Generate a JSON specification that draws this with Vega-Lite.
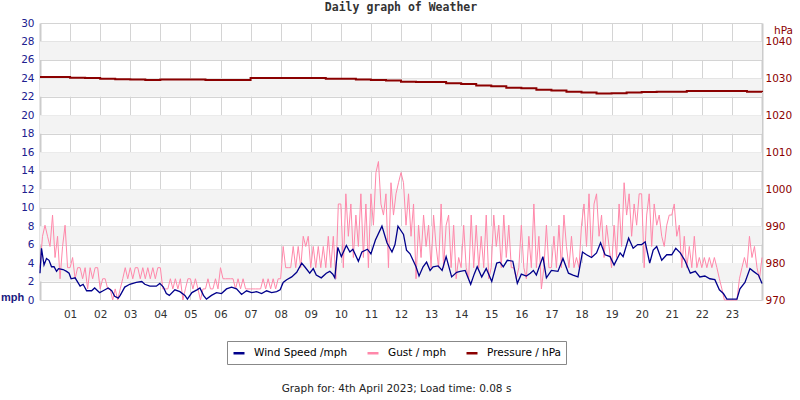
{
  "$schema": "https://vega.github.io/schema/vega-lite/v6.json",
  "width": 722,
  "height": 277,
  "autosize": "none",
  "padding": {"left": 40, "top": 23, "right": 38, "bottom": 100},
  "background": "white",
  "config": {
    "view": {"stroke": null},
    "font": "DejaVu Sans",
    "axis": {"labelFont": "DejaVu Sans", "titleFont": "DejaVu Sans", "labelOverlap": false, "labelFlush": false, "ticks": false, "labelFontSize": 10.5},
    "axisX": {
      "grid": true, "gridColor": "#d4d4d4", "domain": false, "labelColor": "#333333", "labelPadding": 9,
      "titleFontSize": 10.5, "titleFontWeight": "normal", "titleColor": "#222222",
      "titleX": 356, "titleY": 91, "titleAlign": "center", "titleBaseline": "alphabetic"
    },
    "axisLeft": {
      "grid": true, "gridColor": "#d4d4d4", "domain": true, "domainColor": "#cccccc", "domainWidth": 2,
      "labelColor": "#20208f", "labelPadding": 6,
      "titleFont": "Liberation Sans", "titleFontSize": 11, "titleFontWeight": "bold", "titleColor": "#1a1a80",
      "titleAngle": 0, "titleAlign": "center", "titleBaseline": "alphabetic", "titleX": -28, "titleY": 277
    },
    "axisRight": {
      "grid": false, "domain": true, "domainColor": "#cccccc", "domainWidth": 2,
      "labelColor": "#8b0000", "labelPadding": 3,
      "titleFontSize": 10.5, "titleFontWeight": "normal", "titleColor": "#8b0000",
      "titleAngle": 0, "titleAlign": "center", "titleBaseline": "alphabetic", "titleX": 21, "titleY": 10
    }
  },
  "title": {
    "text": "Daily graph of Weather",
    "font": "DejaVu Sans Mono",
    "fontSize": 11.5,
    "fontWeight": "bold",
    "color": "#333333",
    "anchor": "middle",
    "frame": "group",
    "offset": 5
  },
  "datasets": {
    "bands": [
      {"lo": 2, "hi": 4}, {"lo": 6, "hi": 8}, {"lo": 10, "hi": 12}, {"lo": 14, "hi": 16},
      {"lo": 18, "hi": 20}, {"lo": 22, "hi": 24}, {"lo": 26, "hi": 28}
    ],
    "wind": [
      {"m":0,"w":2.9},{"m":3,"w":5.6},{"m":8,"w":3.8},{"m":13,"w":4.5},{"m":18,"w":4.3},{"m":23,"w":3.6},{"m":28,"w":3.6},{"m":33,"w":3.1},{"m":37,"w":3.4},{"m":46,"w":3.3},{"m":53,"w":3.1},{"m":58,"w":2.9},
      {"m":62,"w":2.3},{"m":70,"w":2.4},{"m":80,"w":1.5},{"m":86,"w":1.7},{"m":93,"w":1.0},{"m":103,"w":1.0},{"m":109,"w":1.3},{"m":119,"w":0.8},
      {"m":126,"w":1.0},{"m":136,"w":1.3},{"m":143,"w":1.0},{"m":149,"w":0.4},{"m":156,"w":0.2},{"m":160,"w":0.5},{"m":169,"w":1.4},{"m":179,"w":1.7},
      {"m":192,"w":1.9},{"m":203,"w":2.0},{"m":209,"w":1.7},{"m":219,"w":1.5},{"m":232,"w":1.5},{"m":239,"w":1.8},
      {"m":246,"w":1.4},{"m":252,"w":0.7},{"m":258,"w":0.5},{"m":269,"w":1.1},{"m":279,"w":0.9},{"m":289,"w":0.5},{"m":294,"w":0.1},
      {"m":303,"w":0.8},{"m":313,"w":1.1},{"m":319,"w":1.3},{"m":326,"w":0.5},{"m":332,"w":0.1},{"m":342,"w":0.5},{"m":352,"w":0.8},
      {"m":362,"w":0.7},{"m":372,"w":1.2},{"m":382,"w":1.4},{"m":392,"w":1.2},{"m":402,"w":0.6},{"m":412,"w":1.0},
      {"m":422,"w":0.8},{"m":432,"w":0.9},{"m":442,"w":0.7},{"m":452,"w":1.0},{"m":462,"w":0.8},{"m":472,"w":0.9},{"m":479,"w":1.1},
      {"m":485,"w":1.9},{"m":492,"w":2.2},{"m":502,"w":2.5},{"m":512,"w":3.0},{"m":522,"w":4.0},{"m":528,"w":3.6},{"m":538,"w":2.9},
      {"m":545,"w":3.4},{"m":551,"w":2.7},{"m":561,"w":2.4},{"m":571,"w":2.9},{"m":578,"w":3.1},{"m":584,"w":2.8},{"m":588,"w":2.4},{"m":594,"w":5.7},
      {"m":601,"w":4.7},{"m":611,"w":5.9},{"m":618,"w":5.2},{"m":624,"w":5.5},{"m":635,"w":4.2},{"m":642,"w":5.2},{"m":653,"w":5.5},
      {"m":660,"w":5.0},{"m":669,"w":6.5},{"m":682,"w":8.0},{"m":692,"w":6.2},{"m":702,"w":5.2},{"m":708,"w":6.0},{"m":714,"w":8.0},
      {"m":725,"w":7.1},{"m":731,"w":5.4},{"m":738,"w":5.0},{"m":750,"w":3.6},{"m":756,"w":2.6},{"m":764,"w":3.6},{"m":771,"w":4.1},{"m":778,"w":3.2},
      {"m":784,"w":3.6},{"m":794,"w":3.7},{"m":802,"w":3.2},{"m":810,"w":4.7},{"m":821,"w":2.5},{"m":831,"w":3.0},{"m":838,"w":3.1},
      {"m":848,"w":3.2},{"m":859,"w":1.7},{"m":866,"w":2.8},{"m":872,"w":3.6},{"m":881,"w":2.5},{"m":890,"w":3.4},
      {"m":901,"w":2.0},{"m":911,"w":4.0},{"m":917,"w":4.1},{"m":924,"w":3.6},{"m":932,"w":4.3},{"m":943,"w":4.2},{"m":952,"w":1.8},
      {"m":960,"w":2.8},{"m":970,"w":2.6},{"m":978,"w":2.9},{"m":984,"w":3.2},{"m":990,"w":2.7},{"m":1003,"w":4.7},{"m":1010,"w":2.4},
      {"m":1020,"w":3.2},{"m":1033,"w":3.1},{"m":1043,"w":4.5},{"m":1054,"w":2.9},{"m":1063,"w":2.7},{"m":1073,"w":2.5},
      {"m":1082,"w":5.2},{"m":1090,"w":4.9},{"m":1100,"w":4.6},{"m":1110,"w":5.1},{"m":1118,"w":6.2},{"m":1127,"w":4.9},{"m":1137,"w":4.7},
      {"m":1145,"w":3.8},{"m":1157,"w":5.1},{"m":1163,"w":4.7},{"m":1174,"w":6.7},{"m":1183,"w":5.6},{"m":1192,"w":6.0},
      {"m":1200,"w":6.0},{"m":1207,"w":6.3},{"m":1216,"w":4.0},{"m":1223,"w":5.4},{"m":1230,"w":5.8},{"m":1240,"w":4.3},{"m":1250,"w":4.9},
      {"m":1260,"w":4.9},{"m":1268,"w":5.6},{"m":1277,"w":5.1},{"m":1286,"w":4.3},{"m":1297,"w":2.9},{"m":1307,"w":3.1},{"m":1316,"w":2.5},
      {"m":1326,"w":2.6},{"m":1336,"w":2.3},{"m":1346,"w":2.2},{"m":1355,"w":1.1},{"m":1363,"w":0.7},{"m":1370,"w":0.1},
      {"m":1390,"w":0.1},{"m":1396,"w":1.2},{"m":1406,"w":1.9},{"m":1416,"w":3.4},{"m":1423,"w":3.1},{"m":1433,"w":2.7},{"m":1440,"w":1.8}
    ],
    "gust": [
      {"m":0,"g":3.5},{"m":5,"g":6.9},{"m":10,"g":8.1},{"m":15,"g":6.9},{"m":20,"g":5.8},{"m":25,"g":9.2},{"m":30,"g":4.6},{"m":35,"g":6.9},{"m":40,"g":2.3},{"m":45,"g":5.8},{"m":50,"g":8.1},{"m":55,"g":3.5},
      {"m":60,"g":3.5},{"m":65,"g":4.6},{"m":70,"g":2.3},{"m":75,"g":3.5},{"m":80,"g":3.5},{"m":85,"g":2.3},{"m":90,"g":3.5},{"m":95,"g":1.2},{"m":100,"g":3.5},{"m":105,"g":2.3},{"m":110,"g":3.5},{"m":115,"g":3.5},
      {"m":120,"g":1.2},{"m":125,"g":2.3},{"m":130,"g":2.3},{"m":135,"g":1.2},{"m":140,"g":1.2},{"m":145,"g":0},{"m":150,"g":1.2},{"m":155,"g":0},{"m":160,"g":1.2},{"m":165,"g":2.3},{"m":170,"g":3.5},{"m":175,"g":2.3},
      {"m":180,"g":3.5},{"m":185,"g":2.3},{"m":190,"g":3.5},{"m":195,"g":3.5},{"m":200,"g":2.3},{"m":205,"g":3.5},{"m":210,"g":2.3},{"m":215,"g":3.5},{"m":220,"g":2.3},{"m":225,"g":3.5},{"m":230,"g":2.3},{"m":235,"g":3.5},
      {"m":240,"g":3.5},{"m":245,"g":1.2},{"m":250,"g":1.2},{"m":255,"g":1.2},{"m":260,"g":2.3},{"m":265,"g":1.2},{"m":270,"g":2.3},{"m":275,"g":1.2},{"m":280,"g":2.3},{"m":285,"g":0},{"m":290,"g":1.2},{"m":295,"g":2.3},
      {"m":300,"g":2.3},{"m":305,"g":1.2},{"m":310,"g":2.3},{"m":315,"g":1.2},{"m":320,"g":0},{"m":325,"g":1.2},{"m":330,"g":1.2},{"m":335,"g":2.3},{"m":340,"g":1.2},{"m":345,"g":1.2},{"m":350,"g":2.3},{"m":355,"g":1.2},
      {"m":360,"g":3.5},{"m":365,"g":2.3},{"m":370,"g":2.3},{"m":375,"g":2.3},{"m":380,"g":2.3},{"m":385,"g":2.3},{"m":390,"g":1.2},{"m":395,"g":2.3},{"m":400,"g":1.2},{"m":405,"g":2.3},{"m":410,"g":1.2},{"m":415,"g":1.2},
      {"m":420,"g":1.2},{"m":425,"g":1.2},{"m":430,"g":1.2},{"m":435,"g":1.2},{"m":440,"g":1.2},{"m":445,"g":2.3},{"m":450,"g":1.2},{"m":455,"g":2.3},{"m":460,"g":1.2},{"m":465,"g":2.3},{"m":470,"g":1.2},{"m":475,"g":2.3},
      {"m":480,"g":2.3},{"m":485,"g":5.8},{"m":490,"g":3.5},{"m":495,"g":3.5},{"m":500,"g":3.5},{"m":505,"g":5.8},{"m":510,"g":3.5},{"m":515,"g":5.8},{"m":520,"g":3.5},{"m":525,"g":6.9},{"m":530,"g":5.8},{"m":535,"g":6.9},
      {"m":540,"g":3.5},{"m":545,"g":5.8},{"m":550,"g":3.5},{"m":555,"g":5.8},{"m":560,"g":3.5},{"m":565,"g":5.8},{"m":570,"g":3.5},{"m":575,"g":6.9},{"m":580,"g":3.5},{"m":585,"g":6.9},{"m":590,"g":2.3},{"m":595,"g":10.4},
      {"m":600,"g":10.4},{"m":605,"g":3.5},{"m":610,"g":11.5},{"m":615,"g":6.9},{"m":620,"g":10.4},{"m":625,"g":4.6},{"m":630,"g":9.2},{"m":635,"g":5.8},{"m":640,"g":11.5},{"m":645,"g":4.6},{"m":650,"g":10.4},{"m":655,"g":3.5},
      {"m":660,"g":11.5},{"m":665,"g":8.1},{"m":670,"g":13.8},{"m":675,"g":15.0},{"m":680,"g":10.4},{"m":685,"g":9.2},{"m":690,"g":11.5},{"m":695,"g":3.5},{"m":700,"g":12.7},{"m":705,"g":9.2},{"m":710,"g":11.5},{"m":715,"g":12.7},
      {"m":720,"g":13.8},{"m":725,"g":12.7},{"m":730,"g":8.1},{"m":735,"g":11.5},{"m":740,"g":6.9},{"m":745,"g":10.4},{"m":750,"g":2.3},{"m":755,"g":8.1},{"m":760,"g":4.6},{"m":765,"g":9.2},{"m":770,"g":5.8},{"m":775,"g":8.1},
      {"m":780,"g":3.5},{"m":785,"g":9.2},{"m":790,"g":5.8},{"m":795,"g":3.5},{"m":800,"g":10.4},{"m":805,"g":3.5},{"m":810,"g":8.1},{"m":815,"g":9.2},{"m":820,"g":3.5},{"m":825,"g":8.1},{"m":830,"g":2.3},{"m":835,"g":4.6},
      {"m":840,"g":3.5},{"m":845,"g":8.1},{"m":850,"g":3.5},{"m":855,"g":2.3},{"m":860,"g":9.2},{"m":865,"g":3.5},{"m":870,"g":8.1},{"m":875,"g":3.5},{"m":880,"g":6.9},{"m":885,"g":3.5},{"m":890,"g":9.2},{"m":895,"g":2.3},
      {"m":900,"g":3.5},{"m":905,"g":9.2},{"m":910,"g":5.8},{"m":915,"g":8.1},{"m":920,"g":3.5},{"m":925,"g":9.2},{"m":930,"g":4.6},{"m":935,"g":8.1},{"m":940,"g":3.5},{"m":945,"g":3.5},{"m":950,"g":2.3},{"m":955,"g":3.5},
      {"m":960,"g":8.1},{"m":965,"g":3.5},{"m":970,"g":2.3},{"m":975,"g":6.9},{"m":980,"g":3.5},{"m":985,"g":10.4},{"m":990,"g":3.5},{"m":995,"g":6.9},{"m":1000,"g":1.2},{"m":1005,"g":3.5},{"m":1010,"g":8.1},{"m":1015,"g":3.5},
      {"m":1020,"g":3.5},{"m":1025,"g":6.9},{"m":1030,"g":3.5},{"m":1035,"g":8.1},{"m":1040,"g":3.5},{"m":1045,"g":9.2},{"m":1050,"g":5.8},{"m":1055,"g":3.5},{"m":1060,"g":6.9},{"m":1065,"g":3.5},{"m":1070,"g":4.6},{"m":1075,"g":3.5},
      {"m":1080,"g":8.1},{"m":1085,"g":10.4},{"m":1090,"g":5.8},{"m":1095,"g":11.5},{"m":1100,"g":4.6},{"m":1105,"g":10.4},{"m":1110,"g":11.5},{"m":1115,"g":6.9},{"m":1120,"g":9.2},{"m":1125,"g":4.6},{"m":1130,"g":8.1},{"m":1135,"g":5.8},
      {"m":1140,"g":3.5},{"m":1145,"g":8.1},{"m":1150,"g":4.6},{"m":1155,"g":10.4},{"m":1160,"g":5.8},{"m":1165,"g":12.7},{"m":1170,"g":9.2},{"m":1175,"g":11.5},{"m":1180,"g":6.9},{"m":1185,"g":10.4},{"m":1190,"g":8.1},{"m":1195,"g":11.5},
      {"m":1200,"g":11.5},{"m":1205,"g":3.5},{"m":1210,"g":9.2},{"m":1215,"g":11.5},{"m":1220,"g":5.8},{"m":1225,"g":10.4},{"m":1230,"g":8.1},{"m":1235,"g":9.2},{"m":1240,"g":6.9},{"m":1245,"g":5.8},{"m":1250,"g":8.1},{"m":1255,"g":9.2},
      {"m":1260,"g":9.2},{"m":1265,"g":10.4},{"m":1270,"g":6.9},{"m":1275,"g":8.1},{"m":1280,"g":3.5},{"m":1285,"g":6.9},{"m":1290,"g":3.5},{"m":1295,"g":5.8},{"m":1300,"g":3.5},{"m":1305,"g":6.9},{"m":1310,"g":3.5},{"m":1315,"g":4.6},
      {"m":1320,"g":3.5},{"m":1325,"g":4.6},{"m":1330,"g":3.5},{"m":1335,"g":4.6},{"m":1340,"g":3.5},{"m":1345,"g":4.6},{"m":1350,"g":3.5},{"m":1355,"g":2.3},{"m":1360,"g":1.2},{"m":1365,"g":0},{"m":1370,"g":0},{"m":1375,"g":0},
      {"m":1380,"g":0},{"m":1385,"g":0},{"m":1390,"g":0},{"m":1395,"g":2.3},{"m":1400,"g":3.5},{"m":1405,"g":4.6},{"m":1410,"g":3.5},{"m":1415,"g":6.9},{"m":1420,"g":4.6},{"m":1425,"g":5.8},{"m":1430,"g":3.5},{"m":1435,"g":2.3},
      {"m":1440,"g":4.6}
    ],
    "pressure": [
      {"m":0,"p":1030.4},{"m":30,"p":1030.4},{"m":60,"p":1030.2},{"m":90,"p":1030.1},{"m":120,"p":1029.9},{"m":150,"p":1029.8},
      {"m":180,"p":1029.7},{"m":210,"p":1029.6},{"m":240,"p":1029.7},{"m":270,"p":1029.7},{"m":300,"p":1029.7},{"m":330,"p":1029.6},
      {"m":360,"p":1029.6},{"m":390,"p":1029.6},{"m":420,"p":1030.1},{"m":450,"p":1030.1},{"m":480,"p":1030.1},{"m":510,"p":1030.1},
      {"m":540,"p":1030.1},{"m":570,"p":1029.9},{"m":600,"p":1029.9},{"m":630,"p":1029.7},{"m":660,"p":1029.6},{"m":690,"p":1029.4},
      {"m":720,"p":1029.1},{"m":750,"p":1029.0},{"m":780,"p":1029.0},{"m":810,"p":1028.7},{"m":840,"p":1028.5},{"m":870,"p":1028.1},
      {"m":900,"p":1027.9},{"m":930,"p":1027.5},{"m":960,"p":1027.3},{"m":990,"p":1026.9},{"m":1020,"p":1026.7},{"m":1050,"p":1026.4},
      {"m":1080,"p":1026.2},{"m":1110,"p":1025.9},{"m":1140,"p":1026.0},{"m":1170,"p":1026.2},{"m":1200,"p":1026.3},{"m":1230,"p":1026.4},
      {"m":1260,"p":1026.4},{"m":1290,"p":1026.6},{"m":1320,"p":1026.6},{"m":1350,"p":1026.6},{"m":1380,"p":1026.6},{"m":1410,"p":1026.4},{"m":1440,"p":1026.3}
    ]
  },
  "layer": [
    {
      "layer": [
        {
          "data": {"name": "bands"},
          "mark": {"type": "rect", "color": "#f3f3f3"},
          "encoding": {
            "x": {
              "datum": 0,
              "type": "quantitative",
              "scale": {"domain": [0, 1440], "nice": false, "zero": false},
              "axis": {
                "values": [60,120,180,240,300,360,420,480,540,600,660,720,780,840,900,960,1020,1080,1140,1200,1260,1320,1380],
                "labelExpr": "(datum.value < 600 ? '0' : '') + (datum.value / 60)",
                "labelOverlap": false,
                "title": "Graph for: 4th April 2023; Load time: 0.08 s"
              }
            },
            "x2": {"datum": 1440},
            "y": {
              "field": "lo",
              "type": "quantitative",
              "scale": {"domain": [0, 30], "nice": false},
              "axis": {"values": [0,2,4,6,8,10,12,14,16,18,20,22,24,26,28,30], "labelOverlap": false, "title": "mph"}
            },
            "y2": {"field": "hi"}
          }
        },
        {
          "data": {"name": "gust"},
          "mark": {"type": "line", "strokeWidth": 1},
          "encoding": {
            "x": {
              "field": "m",
              "type": "quantitative",
              "axis": {
                "values": [60,120,180,240,300,360,420,480,540,600,660,720,780,840,900,960,1020,1080,1140,1200,1260,1320,1380],
                "labelExpr": "(datum.value < 600 ? '0' : '') + (datum.value / 60)",
                "labelOverlap": false,
                "title": "Graph for: 4th April 2023; Load time: 0.08 s"
              }
            },
            "y": {
              "field": "g",
              "type": "quantitative",
              "scale": {"domain": [0, 30], "nice": false},
              "axis": {"values": [0,2,4,6,8,10,12,14,16,18,20,22,24,26,28,30], "labelOverlap": false, "title": "mph"}
            },
            "color": {
              "datum": "Gust / mph",
              "type": "nominal",
              "scale": {
                "domain": ["Wind Speed /mph", "Gust / mph", "Pressure / hPa"],
                "range": ["#00008b", "#ff88aa", "#8b0000"]
              },
              "legend": {
                "orient": "none",
                "legendX": 187,
                "legendY": 318,
                "direction": "horizontal",
                "title": null,
                "symbolType": "stroke",
                "symbolStrokeWidth": 2.5,
                "symbolSize": 121,
                "labelFontSize": 10.5,
                "labelFont": "DejaVu Sans",
                "labelColor": "#000000",
                "strokeColor": "#888888",
                "fillColor": "#ffffff",
                "padding": 5,
                "columnPadding": 14,
                "labelOffset": 8
              }
            }
          }
        },
        {
          "data": {"name": "wind"},
          "mark": {"type": "line", "strokeWidth": 1.3},
          "encoding": {
            "x": {
              "field": "m",
              "type": "quantitative",
              "axis": {
                "values": [60,120,180,240,300,360,420,480,540,600,660,720,780,840,900,960,1020,1080,1140,1200,1260,1320,1380],
                "labelExpr": "(datum.value < 600 ? '0' : '') + (datum.value / 60)",
                "labelOverlap": false,
                "title": "Graph for: 4th April 2023; Load time: 0.08 s"
              }
            },
            "y": {
              "field": "w",
              "type": "quantitative",
              "scale": {"domain": [0, 30], "nice": false},
              "axis": {"values": [0,2,4,6,8,10,12,14,16,18,20,22,24,26,28,30], "labelOverlap": false, "title": "mph"}
            },
            "color": {"datum": "Wind Speed /mph", "type": "nominal"}
          }
        }
      ]
    },
    {
      "data": {"name": "pressure"},
      "mark": {"type": "line", "strokeWidth": 2, "interpolate": "step-after"},
      "encoding": {
        "x": {
          "field": "m",
          "type": "quantitative",
          "axis": {
            "values": [60,120,180,240,300,360,420,480,540,600,660,720,780,840,900,960,1020,1080,1140,1200,1260,1320,1380],
            "labelExpr": "(datum.value < 600 ? '0' : '') + (datum.value / 60)",
            "labelOverlap": false,
            "title": "Graph for: 4th April 2023; Load time: 0.08 s"
          }
        },
        "y": {
          "field": "p",
          "type": "quantitative",
          "scale": {"domain": [970, 1045], "nice": false, "zero": false},
          "axis": {
            "orient": "right",
            "values": [970,980,990,1000,1010,1020,1030,1040],
            "labelOverlap": false,
            "format": "d",
            "title": "hPa"
          }
        },
        "color": {"datum": "Pressure / hPa", "type": "nominal"}
      }
    }
  ],
  "resolve": {"scale": {"y": "independent"}}
}
